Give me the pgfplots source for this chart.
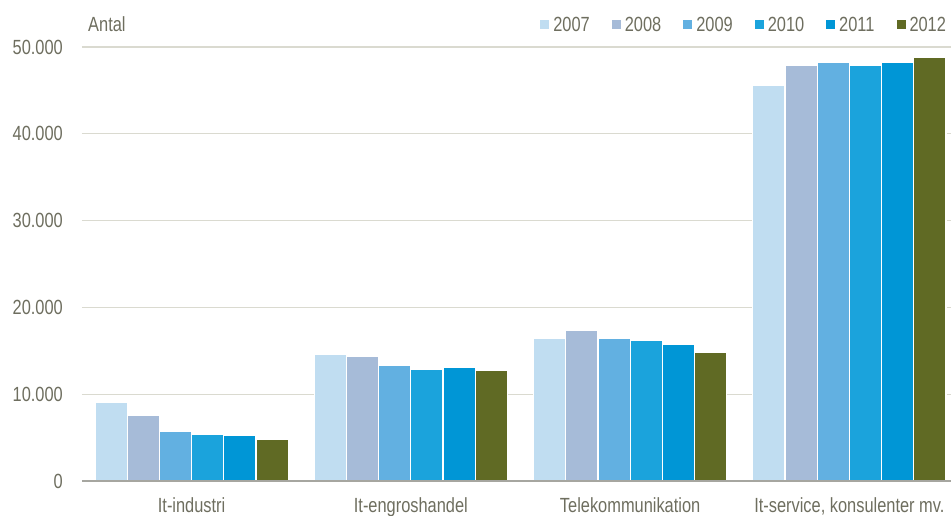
\documentclass[border=0pt]{standalone}
\usepackage{pgfplots}
\pgfplotsset{compat=1.18}
\usepackage{fontspec}
\setmainfont{Liberation Sans}[FakeStretch=0.8]
\usetikzlibrary{calc}

\definecolor{c07}{RGB}{192,221,241}
\definecolor{c08}{RGB}{166,187,216}
\definecolor{c09}{RGB}{98,176,225}
\definecolor{c10}{RGB}{27,163,220}
\definecolor{c11}{RGB}{0,150,214}
\definecolor{c12}{RGB}{96,106,36}
\definecolor{txtc}{RGB}{110,110,95}
\definecolor{gridc}{RGB}{218,218,208}
\definecolor{axisc}{RGB}{166,166,160}

\newcommand{\lblfont}{\fontsize{20.5}{24}\selectfont}

\begin{document}
\begin{tikzpicture}
\begin{axis}[
    name=ax,
    scale only axis,
    width=877pt, height=434pt,
    xmin=-0.5, xmax=3.5,
    ymin=0, ymax=50000,
    ybar=0pt, bar width=32.2pt,
    xtick={0,1,2,3},
    xticklabels={It-industri, It-engroshandel, Telekommunikation, {It-service, konsulenter mv.}},
    ytick={0,10000,20000,30000,40000,50000},
    scaled y ticks=false,
    /pgf/number format/.cd, 1000 sep={.}, assume math mode=true,
    /pgfplots/.cd,
    ymajorgrids,
    grid style={color=gridc, line width=1.3pt},
    axis line style={draw=none},
    tick style={draw=none},
    major tick length=0pt,
    tick label style={font=\lblfont, text=txtc},
    yticklabel style={anchor=east, inner sep=0pt, xshift=-19pt},
    xticklabel style={anchor=north, inner sep=0pt, yshift=-16pt, text height=15pt, text depth=4pt},
    legend columns=6,
    legend image code/.code={\fill[#1,draw=none] (0pt,-4.5pt) rectangle (9pt,4.5pt);},
    legend style={at={(1,1)}, anchor=east, yshift=22pt, xshift=-12pt,
      draw=none, fill=none, inner sep=0pt, outer sep=0pt,
      font=\lblfont, text=txtc,
      nodes={inner sep=1pt},
      /tikz/every odd column/.append style={column sep=3pt},
      /tikz/every even column/.append style={column sep=21pt}},
    every axis plot/.append style={draw=white, line width=1.2pt},
  ]
  \addplot[fill=c07] coordinates {(0,9110) (1,14610) (2,16400) (3,45600)};
  \addplot[fill=c08] coordinates {(0,7580) (1,14380) (2,17350) (3,47850)};
  \addplot[fill=c09] coordinates {(0,5770) (1,13350) (2,16450) (3,48200)};
  \addplot[fill=c10] coordinates {(0,5420) (1,12880) (2,16170) (3,47930)};
  \addplot[fill=c11] coordinates {(0,5240) (1,13080) (2,15780) (3,48270)};
  \addplot[fill=c12] coordinates {(0,4840) (1,12690) (2,14860) (3,48780)};
  \legend{2007,2008,2009,2010,2011,2012}
\end{axis}
\draw[axisc, line width=1.3pt] (ax.south west) -- (ax.south east);
\node[anchor=west, inner sep=0pt, font=\lblfont, text=txtc] at ($(ax.north west)+(6pt,23pt)$) {Antal};
\pgfresetboundingbox
\path[use as bounding box] ($(ax.south west)+(-82pt,-35pt)$) rectangle ($(ax.south west)+(869pt,481pt)$);
\end{tikzpicture}
\end{document}
